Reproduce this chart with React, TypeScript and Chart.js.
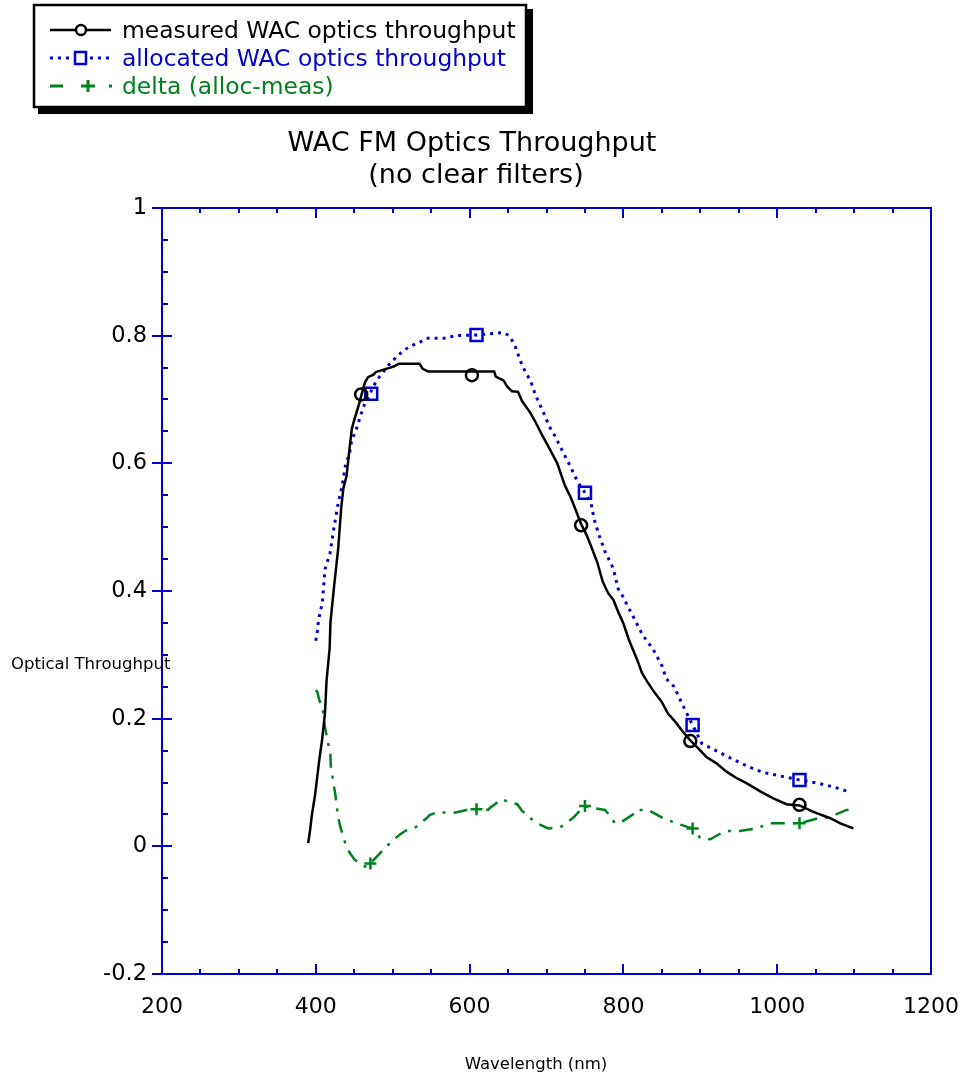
import React, { useEffect, useRef } from 'react';
import { Chart, registerables } from 'chart.js';

Chart.register(...registerables);

// ---- data ----
const measuredNm = [390, 392, 395, 399, 402, 405, 408, 412, 414, 418, 419, 424, 429, 433, 436, 440, 444, 447, 451, 456, 460, 464, 468, 475, 478, 486, 497, 502, 508, 535, 539, 546, 632, 634, 644, 649, 655, 663, 668, 679, 686, 694, 703, 714, 724, 731, 737, 745, 752, 758, 766, 773, 780, 787, 793, 800, 807, 818, 824, 831, 841, 850, 858, 869, 877, 887, 897, 908, 921, 934, 947, 960, 978, 995, 1012, 1029, 1047, 1069, 1082, 1099];
const measuredT = [0.005, 0.02, 0.05, 0.08, 0.11, 0.14, 0.165, 0.21, 0.26, 0.31, 0.35, 0.41, 0.465, 0.53, 0.562, 0.58, 0.625, 0.655, 0.672, 0.692, 0.71, 0.727, 0.735, 0.739, 0.743, 0.746, 0.75, 0.752, 0.756, 0.756, 0.748, 0.744, 0.744, 0.736, 0.73, 0.72, 0.713, 0.712, 0.698, 0.679, 0.664, 0.645, 0.625, 0.6, 0.565, 0.548, 0.53, 0.505, 0.488, 0.47, 0.445, 0.415, 0.397, 0.386, 0.368, 0.349, 0.324, 0.292, 0.272, 0.258, 0.24, 0.226, 0.208, 0.193, 0.18, 0.166, 0.154, 0.14, 0.13, 0.117, 0.107, 0.099, 0.086, 0.075, 0.066, 0.064, 0.054, 0.044, 0.036, 0.028];

const allocatedNm = [400, 402, 402.5, 404.5, 408.5, 412, 418.5, 423, 429, 434, 439, 443.5, 447, 450, 454, 457, 460.5, 464.5, 470.5, 475, 481, 487.5, 495.5, 506, 512.5, 523, 533, 544, 570, 581, 609, 644, 651.5, 657.5, 662, 665, 672.5, 679, 686, 696, 703.5, 710, 720.5, 731, 741, 750, 758, 762, 768.5, 776, 787, 793, 800, 804, 814, 824.5, 839, 850, 856, 866, 876, 890, 902, 922, 943, 964, 981, 1001, 1029, 1053, 1073, 1095];
const allocatedT = [0.322, 0.337, 0.345, 0.36, 0.382, 0.434, 0.459, 0.495, 0.537, 0.563, 0.6, 0.613, 0.639, 0.645, 0.658, 0.67, 0.683, 0.696, 0.709, 0.721, 0.733, 0.743, 0.755, 0.768, 0.775, 0.784, 0.788, 0.796, 0.796, 0.8, 0.801, 0.805, 0.8, 0.788, 0.775, 0.763, 0.743, 0.73, 0.706, 0.68, 0.658, 0.645, 0.62, 0.595, 0.57, 0.554, 0.537, 0.512, 0.487, 0.462, 0.435, 0.404, 0.39, 0.38, 0.357, 0.332, 0.308, 0.283, 0.262, 0.25, 0.224, 0.19, 0.161, 0.149, 0.136, 0.124, 0.116, 0.111, 0.104, 0.099, 0.093, 0.085];

const deltaNm = [400, 402, 404.5, 408.5, 412, 419, 419.5, 423, 425.5, 429, 432, 439.5, 443.5, 450, 460, 466, 471, 477, 481, 492, 502, 509, 516, 530, 544, 548, 557, 582, 596, 609, 624, 627, 633, 641, 650, 662, 668, 679, 690, 702, 718, 735, 745, 750, 760, 776, 782, 789, 800, 815, 817, 832, 852, 869, 890, 900, 913, 932, 951, 973, 991, 1010, 1029, 1053, 1069, 1090, 1101];
const deltaT = [0.245, 0.242, 0.229, 0.219, 0.186, 0.144, 0.126, 0.099, 0.08, 0.046, 0.03, 0, -0.009, -0.02, -0.03, -0.032, -0.027, -0.019, -0.014, 0, 0.011, 0.018, 0.024, 0.03, 0.044, 0.049, 0.053, 0.053, 0.057, 0.058, 0.057, 0.061, 0.066, 0.074, 0.07, 0.066, 0.056, 0.044, 0.035, 0.028, 0.03, 0.045, 0.058, 0.063, 0.06, 0.057, 0.049, 0.036, 0.04, 0.052, 0.057, 0.057, 0.044, 0.036, 0.028, 0.013, 0.011, 0.024, 0.024, 0.028, 0.036, 0.036, 0.036, 0.044, 0.046, 0.057, 0.057];

const measuredMarkNm = [459, 603, 745, 887, 1029];
const measuredMarkT = [0.708, 0.738, 0.503, 0.165, 0.065];
const allocatedMarkNm = [472, 609, 750, 890, 1029];
const allocatedMarkT = [0.709, 0.801, 0.554, 0.19, 0.104];
const deltaMarkNm = [471, 609, 750, 890, 1029];
const deltaMarkT = [-0.027, 0.058, 0.063, 0.028, 0.036];

const xTickValues = [200, 400, 600, 800, 1000, 1200];
const xTickLabels = ['200', '400', '600', '800', '1000', '1200'];
const yTickValues = [-0.2, 0, 0.2, 0.4, 0.6, 0.8, 1];
const yTickLabels = ['-0.2', '0', '0.2', '0.4', '0.6', '0.8', '1'];

const seriesLabels = ['measured WAC optics throughput', 'allocated WAC optics throughput', 'delta (alloc-meas)'];
const titleLines = ['WAC FM Optics Throughput', '(no clear filters)'];
const xAxisTitle = 'Wavelength (nm)';
const yAxisTitle = 'Optical Throughput';

// ---- styles ----
const FONT = '"DejaVu Sans", Verdana, sans-serif';
const AXIS_BLUE = '#0000d0';
const BLACK = '#000000';
const BLUE = '#0000d0';
const GREEN = '#008020';

const toXY = (xs: number[], ys: number[]) => xs.map((x, i) => ({ x, y: ys[i] }));

const decorPlugin = {
  id: 'decor',
  afterDraw(chart: any) {
    const ctx: CanvasRenderingContext2D = chart.ctx;
    const xs = chart.scales.x;
    const ys = chart.scales.y;
    const { left, right, top, bottom } = chart.chartArea;
    ctx.save();
    // frame
    ctx.strokeStyle = AXIS_BLUE;
    ctx.lineWidth = 2;
    ctx.beginPath();
    ctx.rect(left, top, right - left, bottom - top);
    ctx.stroke();
    // x ticks (bottom + top), inward
    ctx.beginPath();
    for (let v = 200; v <= 1200; v += 50) {
      const px = Math.round(xs.getPixelForValue(v));
      const major = v % 200 === 0;
      const len = major ? 10 : 5;
      ctx.moveTo(px, bottom);
      ctx.lineTo(px, bottom - len);
      ctx.moveTo(px, top);
      ctx.lineTo(px, top + len);
    }
    // y ticks on left
    for (let k = -4; k <= 20; k++) {
      const v = k * 0.05;
      const py = Math.round(ys.getPixelForValue(v));
      const major = k % 4 === 0;
      if (major) {
        ctx.moveTo(left - 10, py);
        ctx.lineTo(left + 10, py);
      } else {
        ctx.moveTo(left, py);
        ctx.lineTo(left + 6, py);
      }
    }
    ctx.stroke();

    // titles
    ctx.fillStyle = BLACK;
    ctx.textAlign = 'center';
    ctx.textBaseline = 'alphabetic';
    ctx.font = `27px ${FONT}`;
    ctx.fillText(titleLines[0], 472, 151);
    ctx.fillText(titleLines[1], 476, 183);

    ctx.font = `16.5px ${FONT}`;
    ctx.fillText(xAxisTitle, 536, 1069);
    ctx.textAlign = 'left';
    ctx.fillText(yAxisTitle, 11, 669);

    // legend box with shadow
    const bx = 33, by = 4, bw = 494, bh = 104;
    ctx.fillStyle = BLACK;
    ctx.fillRect(bx + 5, by + 5, bw + 1, bh + 1);
    ctx.fillStyle = '#ffffff';
    ctx.fillRect(bx, by, bw, bh);
    ctx.strokeStyle = BLACK;
    ctx.lineWidth = 2.5;
    ctx.strokeRect(bx + 1, by + 1, bw - 2, bh - 2);

    const rowY = [30, 58, 86];
    const colors = [BLACK, BLUE, GREEN];
    // row 1 sample
    ctx.setLineDash([]);
    ctx.strokeStyle = BLACK;
    ctx.lineWidth = 2.5;
    ctx.beginPath();
    ctx.moveTo(50, rowY[0]);
    ctx.lineTo(111, rowY[0]);
    ctx.stroke();
    ctx.fillStyle = '#fff';
    ctx.beginPath();
    ctx.arc(81, rowY[0], 5, 0, Math.PI * 2);
    ctx.fill();
    ctx.stroke();
    // row 2 sample
    ctx.strokeStyle = BLUE;
    ctx.lineWidth = 3;
    ctx.setLineDash([3, 5]);
    ctx.beginPath();
    ctx.moveTo(50, rowY[1]);
    ctx.lineTo(113, rowY[1]);
    ctx.stroke();
    ctx.setLineDash([]);
    ctx.lineWidth = 2.5;
    ctx.fillStyle = '#fff';
    ctx.fillRect(74, rowY[1] - 7, 13, 14);
    ctx.strokeRect(75, rowY[1] - 6, 11, 12);
    // row 3 sample
    ctx.strokeStyle = GREEN;
    ctx.lineWidth = 3;
    ctx.beginPath();
    ctx.moveTo(50, rowY[2]);
    ctx.lineTo(63, rowY[2]);
    ctx.moveTo(81, rowY[2]);
    ctx.lineTo(95, rowY[2]);
    ctx.moveTo(88, rowY[2] - 6);
    ctx.lineTo(88, rowY[2] + 6);
    ctx.moveTo(109, rowY[2]);
    ctx.lineTo(112, rowY[2]);
    ctx.stroke();

    ctx.font = `23.4px ${FONT}`;
    ctx.textAlign = 'left';
    seriesLabels.forEach((s, i) => {
      ctx.fillStyle = colors[i];
      ctx.fillText(s, 122, rowY[i] + 8);
    });
    ctx.restore();
  },
};

export default function App() {
  const ref = useRef<HTMLCanvasElement | null>(null);
  useEffect(() => {
    if (!ref.current) return;
    const chart = new Chart(ref.current, {
      type: 'scatter',
      data: {
        datasets: [
          {
            label: seriesLabels[0],
            data: toXY(measuredNm, measuredT),
            showLine: true,
            borderColor: BLACK,
            borderWidth: 2.5,
            pointRadius: 0,
            tension: 0,
          },
          {
            label: seriesLabels[0] + ' markers',
            data: toXY(measuredMarkNm, measuredMarkT),
            showLine: false,
            pointStyle: 'circle',
            pointRadius: 6,
            pointBorderWidth: 2.5,
            borderColor: BLACK,
            backgroundColor: 'rgba(0,0,0,0)',
          },
          {
            label: seriesLabels[1],
            data: toXY(allocatedNm, allocatedT),
            showLine: true,
            borderColor: BLUE,
            borderWidth: 3,
            borderDash: [3, 5],
            pointRadius: 0,
            tension: 0,
          },
          {
            label: seriesLabels[1] + ' markers',
            data: toXY(allocatedMarkNm, allocatedMarkT),
            showLine: false,
            pointStyle: 'rect',
            pointRadius: 8.5,
            pointBorderWidth: 2.5,
            borderColor: BLUE,
            backgroundColor: 'rgba(0,0,0,0)',
          },
          {
            label: seriesLabels[2],
            data: toXY(deltaNm, deltaT),
            showLine: true,
            borderColor: GREEN,
            borderWidth: 2.5,
            borderDash: [14, 8, 3, 8],
            pointRadius: 0,
            tension: 0,
          },
          {
            label: seriesLabels[2] + ' markers',
            data: toXY(deltaMarkNm, deltaMarkT),
            showLine: false,
            pointStyle: 'cross',
            pointRadius: 6,
            pointBorderWidth: 2.5,
            borderColor: GREEN,
            backgroundColor: 'rgba(0,0,0,0)',
          },
        ],
      },
      options: {
        responsive: false,
        animation: false,
        devicePixelRatio: 1,
        layout: { padding: { top: 208, right: 33, left: 0, bottom: 0 } },
        plugins: {
          legend: { display: false },
          title: { display: false },
          tooltip: { enabled: false },
        },
        scales: {
          x: {
            type: 'linear',
            min: 200,
            max: 1200,
            afterBuildTicks: (scale: any) => {
              scale.ticks = xTickValues.map((v) => ({ value: v }));
            },
            afterFit: (scale: any) => {
              scale.height = 102;
              scale.paddingLeft = 0;
              scale.paddingRight = 0;
            },
            grid: { display: false, drawTicks: false },
            border: { display: false },
            ticks: {
              color: BLACK,
              font: { family: FONT, size: 22 },
              padding: 20,
              maxRotation: 0,
              autoSkip: false,
              callback: (v: any) => {
                const i = xTickValues.indexOf(Number(v));
                return i >= 0 ? xTickLabels[i] : '';
              },
            },
          },
          y: {
            type: 'linear',
            min: -0.2,
            max: 1,
            afterBuildTicks: (scale: any) => {
              scale.ticks = yTickValues.map((v) => ({ value: v }));
            },
            afterFit: (scale: any) => {
              scale.width = 162;
              scale.paddingTop = 0;
              scale.paddingBottom = 0;
            },
            grid: { display: false, drawTicks: false },
            border: { display: false },
            ticks: {
              color: BLACK,
              font: { family: FONT, size: 22.5 },
              padding: 15,
              autoSkip: false,
              callback: (v: any) => {
                const i = yTickValues.findIndex((t) => Math.abs(t - Number(v)) < 1e-9);
                return i >= 0 ? yTickLabels[i] : '';
              },
            },
          },
        },
      },
      plugins: [decorPlugin],
    } as any);
    return () => chart.destroy();
  }, []);

  return (
    <div style={{ position: 'absolute', left: 0, top: 0, width: 964, height: 1076, background: '#fff' }}>
      <canvas ref={ref} width={964} height={1076} style={{ display: 'block', width: 964, height: 1076 }} />
    </div>
  );
}
